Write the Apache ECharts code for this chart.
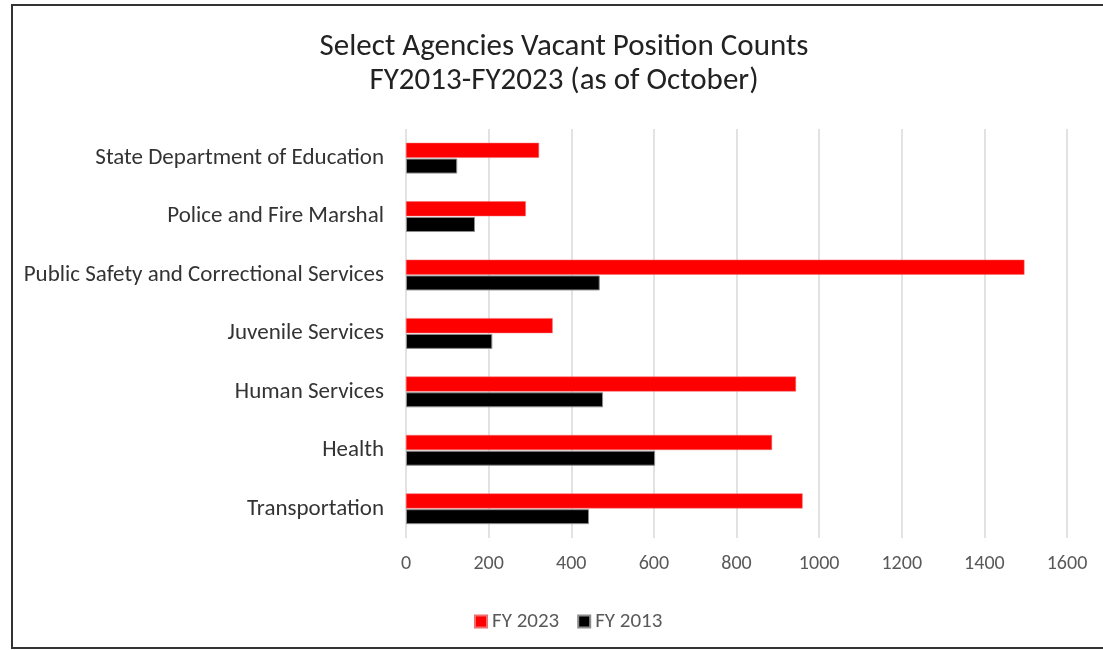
<!DOCTYPE html>
<html>
<head>
<meta charset="utf-8">
<script src="https://cdn.jsdelivr.net/npm/echarts@6/dist/echarts.min.js"></script>
<style>
  html, body { margin: 0; padding: 0; background: #fff; }
  #main { width: 1103px; height: 650px; }
</style>
</head>
<body>
<div id="main"></div>
<script>
// 数据（从上到下的顺序）
var agencies = ['State Department of Education', 'Police and Fire Marshal',
  'Public Safety and Correctional Services', 'Juvenile Services',
  'Human Services', 'Health', 'Transportation']
var fy2023 = [322, 290, 1497, 355, 944, 886, 960]
var fy2013 = [124, 167, 469, 209, 477, 603, 443]
var xTicks = [0, 200, 400, 600, 800, 1000, 1200, 1400, 1600]

var font = 'Carlito, "Open Sans", sans-serif'

var myChart = echarts.init(document.getElementById('main'))
var option = {
  animation: false,
  backgroundColor: '#fff',
  title: {
    text: 'Select Agencies Vacant Position Counts\nFY2013-FY2023 (as of October)',
    left: 559,
    top: 25,
    textAlign: 'center',
    textStyle: { fontFamily: font, fontSize: 31, fontWeight: 'normal', color: '#222', lineHeight: 34 }
  },
  legend: {
    data: ['FY 2023', 'FY 2013'],
    left: 469,
    top: 606,
    itemWidth: 12,
    itemHeight: 12,
    itemGap: 18,
    icon: 'rect',
    textStyle: { fontFamily: font, fontSize: 21, color: '#595959' }
  },
  grid: { left: 406, right: 36, top: 129, bottom: 112, containLabel: false },
  xAxis: {
    type: 'value',
    min: xTicks[0],
    max: xTicks[xTicks.length - 1],
    interval: 200,
    axisLine: { show: false },
    axisTick: { show: false },
    axisLabel: {
      fontFamily: font, fontSize: 20, color: '#595959', margin: 16,
      formatter: function (v) { return String(v) }
    },
    splitLine: { lineStyle: { color: '#d9d9d9', width: 1.5 } }
  },
  yAxis: {
    type: 'category',
    inverse: true,
    data: agencies,
    axisLine: { show: false },
    axisTick: { show: false },
    axisLabel: { fontFamily: font, fontSize: 23, color: '#333', margin: 22 }
  },
  series: [
    {
      name: 'FY 2023',
      type: 'bar',
      data: fy2023,
      barWidth: 15,
      barGap: '5%',
      itemStyle: { color: '#ff0000', borderColor: '#f26d6d', borderWidth: 0.5 }
    },
    {
      name: 'FY 2013',
      type: 'bar',
      data: fy2013,
      barWidth: 15,
      barGap: '5%',
      itemStyle: { color: '#000', borderColor: '#8c8c8c', borderWidth: 1 }
    }
  ],
  graphic: [{
    type: 'rect',
    shape: { x: 12, y: 5, width: 1100, height: 643 },
    style: { fill: null, stroke: '#333', lineWidth: 2 },
    silent: true
  }]
}
myChart.setOption(option)
</script>
</body>
</html>
